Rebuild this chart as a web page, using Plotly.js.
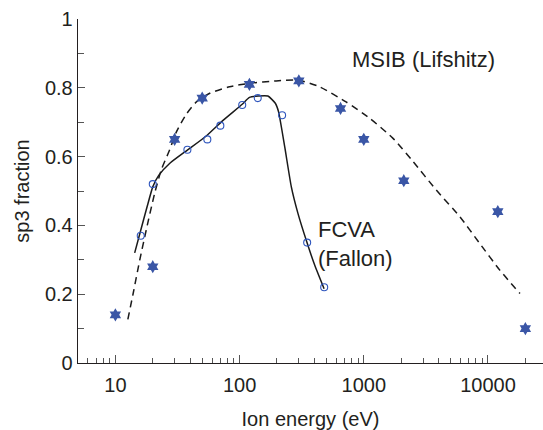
<!DOCTYPE html>
<html>
<head>
<meta charset="utf-8">
<script src="https://cdn.plot.ly/plotly-3.0.1.min.js"></script>
<style>
html,body{margin:0;padding:0;background:#fff;}
#chart{width:543px;height:430px;}
</style>
</head>
<body>
<div id="chart"></div>
<script>
// MSIB (Lifshitz) data points
var msibEnergy = [10, 20, 30, 50, 120, 300, 650, 1000, 2100, 12000, 20000];
var msibSp3 = [0.14, 0.28, 0.65, 0.77, 0.81, 0.82, 0.74, 0.65, 0.53, 0.44, 0.10];

// FCVA (Fallon) data points
var fcvaEnergy = [16, 20, 38, 55, 70, 105, 140, 220, 350, 480];
var fcvaSp3 = [0.37, 0.52, 0.62, 0.65, 0.69, 0.75, 0.77, 0.72, 0.35, 0.22];

// FCVA guide curve (solid)
var fcvaCurveEnergy = [14.3, 16, 18, 20, 22.4, 27.3, 38, 54, 74, 105, 120, 141, 169, 194, 206, 231, 261, 295, 349, 403, 479];
var fcvaCurveSp3 = [0.32, 0.386, 0.454, 0.512, 0.546, 0.58, 0.619, 0.66, 0.706, 0.752, 0.772, 0.776, 0.776, 0.755, 0.73, 0.628, 0.512, 0.435, 0.35, 0.284, 0.216];

// MSIB guide curve (dashed)
var msibCurveEnergy = [12.6, 13.9, 15.7, 17.7, 20.7, 23.4, 27.3, 31, 36.9, 44.9, 57.5, 83, 120, 197, 300, 440, 720, 1120, 1720, 2500, 3850, 5940, 8600, 12450, 18100];
var msibCurveSp3 = [0.127, 0.202, 0.299, 0.386, 0.493, 0.561, 0.619, 0.672, 0.721, 0.759, 0.784, 0.803, 0.813, 0.82, 0.822, 0.803, 0.759, 0.711, 0.653, 0.585, 0.502, 0.425, 0.347, 0.27, 0.202];

var xTickVals = [10, 100, 1000, 10000];
var xTickText = ['10', '100', '1000', '10000'];
var yTickVals = [0, 0.2, 0.4, 0.6, 0.8, 1];
var yTickText = ['0', '0.2', '0.4', '0.6', '0.8', '1'];

var txt = '#231f20';
var font = 'Liberation Sans, Arial, Helvetica, sans-serif';

var traces = [
  {x: msibCurveEnergy, y: msibCurveSp3, mode: 'lines', type: 'scatter',
   line: {color: '#1a1a1a', width: 1.5, dash: '7px,5px', shape: 'spline', smoothing: 0.6}, hoverinfo: 'skip'},
  {x: fcvaCurveEnergy, y: fcvaCurveSp3, mode: 'lines', type: 'scatter',
   line: {color: '#1a1a1a', width: 1.5, shape: 'spline', smoothing: 0.5}, hoverinfo: 'skip'},
  {x: fcvaEnergy, y: fcvaSp3, mode: 'markers', type: 'scatter',
   marker: {symbol: 'circle-open', size: 7, color: '#2e55bd', line: {width: 1.1, color: '#2e55bd'}}},
  {x: msibEnergy, y: msibSp3, mode: 'markers', type: 'scatter',
   marker: {symbol: 'hexagram', size: 10, color: '#3a56a6', line: {width: 0}}}
];

var layout = {
  width: 543, height: 430,
  margin: {l: 78, r: 0, t: 19, b: 67},
  paper_bgcolor: '#fff', plot_bgcolor: '#fff',
  showlegend: false,
  font: {family: font, color: txt, size: 20},
  xaxis: {
    type: 'log', range: [Math.log10(5), 4.443],
    showline: true, linecolor: txt, linewidth: 1.3,
    showgrid: false, zeroline: false,
    ticks: 'inside', ticklen: 8, tickwidth: 1, tickcolor: '#555',
    tickmode: 'array', tickvals: xTickVals, ticktext: xTickText,
    ticklabelstandoff: 4,
    tickfont: {size: 20, color: txt, family: font},
    minor: {ticks: 'inside', ticklen: 5, tickwidth: 1, tickcolor: '#555', dtick: 'D1', showgrid: false},
    title: {text: 'Ion energy (eV)', font: {size: 20, color: txt, family: font}, standoff: 20}
  },
  yaxis: {
    range: [0, 1],
    showline: true, linecolor: txt, linewidth: 1.3,
    showgrid: false, zeroline: false,
    ticks: 'inside', ticklen: 7, tickwidth: 1, tickcolor: '#555',
    tickmode: 'array', tickvals: yTickVals, ticktext: yTickText,
    tickfont: {size: 20, color: txt, family: font},
    minor: {ticks: 'inside', ticklen: 6, tickwidth: 1, tickcolor: '#555', dtick: 0.1, showgrid: false},
    title: {text: 'sp3 fraction', font: {size: 20, color: txt, family: font}, standoff: 10}
  },
  annotations: [
    {xref: 'x', yref: 'y', x: 2.888, y: 0.881, xanchor: 'left', yanchor: 'middle',
     text: 'MSIB (Lifshitz)', showarrow: false, font: {size: 22, color: txt, family: font}},
    {xref: 'x', yref: 'y', x: 2.615, y: 0.345, xanchor: 'left', yanchor: 'middle', align: 'left',
     text: 'FCVA<br>(Fallon)', showarrow: false, font: {size: 22, color: txt, family: font}}
  ]
};

Plotly.newPlot('chart', traces, layout, {displayModeBar: false, staticPlot: true});
</script>
</body>
</html>
